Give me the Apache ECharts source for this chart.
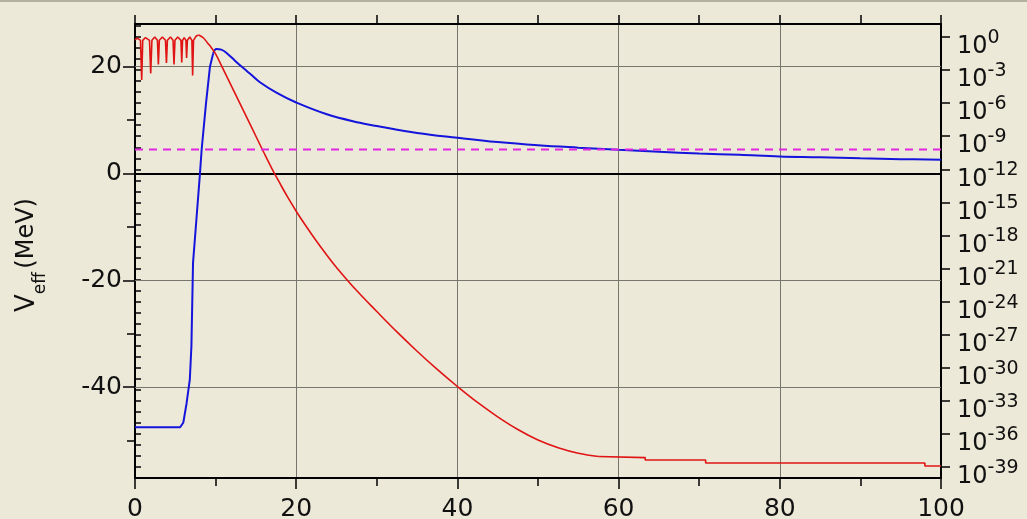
<!DOCTYPE html>
<html>
<head>
<meta charset="utf-8">
<script src="https://cdn.jsdelivr.net/npm/echarts@6/dist/echarts.min.js"></script>
<style>
  html, body { margin: 0; padding: 0; background: #ECE9D8; }
  #chart { width: 1027px; height: 519px; }
</style>
</head>
<body>
<div id="chart"></div>
<script>
// Effective potential V_eff (MeV) versus radius (fm): nuclear well, then Coulomb tail
const wellR = [0, 5.6, 6.0, 6.4, 6.8, 7.0, 7.2, 7.65, 8.06, 8.27, 8.8, 9.3, 9.7];
const wellV = [-47.5, -47.5, -46.6, -43, -38.6, -32.3, -16.7, -8.0, 0, 4.5, 13, 20, 22.5];
const tailR = [9.7, 10.1, 10.7, 11.5, 12.5, 13.4, 14.5, 15.5, 17.6, 20, 23.8, 27.9, 30, 35, 40, 45, 50, 55, 60, 65, 70, 75, 80, 85, 90, 95, 100];
const tailV = [22.5, 23.3, 23.2, 22.4, 21.0, 19.8, 18.4, 17.1, 15.1, 13.3, 11.1, 9.5, 8.9, 7.6, 6.7, 5.9, 5.3, 4.85, 4.45, 4.1, 3.75, 3.5, 3.2, 3.05, 2.85, 2.7, 2.6];

// log10 of the probability density versus radius (fm)
// inside the nucleus (oscillating, with nodes)
const insideR = [0, 0.3, 0.68, 0.83, 0.96, 1.3, 1.8, 1.95, 2.1, 2.45, 2.78, 2.9, 3.02, 3.4, 3.78, 3.9, 4.02, 4.4, 4.72, 4.84, 4.96, 5.3, 5.7, 5.8, 5.9, 6.1, 6.32, 6.4, 6.5, 6.8, 7.06, 7.15, 7.26, 7.6, 7.9];
const insideLog = [-0.25, -0.1, -0.3, -3.9, -0.3, -0.05, -0.3, -3.3, -0.3, 0.0, -0.3, -2.5, -0.3, 0.0, -0.3, -2.35, -0.3, 0.0, -0.3, -2.5, -0.3, 0.0, -0.3, -2.3, -0.3, -0.05, -0.3, -1.9, -0.3, 0.0, -0.3, -3.5, -0.3, 0.1, 0.18];
// tunnelling through the barrier
const barrierR = [7.9, 8.5, 9.0, 9.5, 10, 11, 12, 13, 14, 15, 16, 17, 18, 19, 20, 21, 22, 23, 24, 25, 27.5, 30, 32.5, 35, 37.5, 40, 42.5, 45, 47.5, 50, 52.5, 55, 57.5];
const barrierLog = [0.18, -0.09, -0.54, -1.0, -1.54, -3.0, -4.5, -6.0, -7.5, -9.0, -10.5, -11.95, -13.3, -14.6, -15.8, -16.92, -17.98, -19.0, -19.97, -20.9, -23.0, -24.9, -26.75, -28.5, -30.15, -31.7, -33.15, -34.45, -35.6, -36.55, -37.25, -37.75, -38.05];
// outside the turning point
const outsideR = [57.5, 63.3, 63.3, 70.8, 70.8, 98, 98, 100];
const outsideLog = [-38.05, -38.15, -38.37, -38.37, -38.64, -38.64, -38.91, -38.91];

// Energy level (MeV)
const energyLevel = 4.5;

// Axis ticks
const leftMajor = [-40, -20, 0, 20];
const leftMinor = [-50, -30, -10, 10];
const leftGrid = [-40, -20, 20];
const rightMajor = [0, -3, -6, -9, -12, -15, -18, -21, -24, -27, -30, -33, -36, -39];
const rightMinor = [];
for (let e = 1; e >= -40; e--) rightMinor.push(e);

const zip = (xs, ys) => xs.map((x, i) => [x, ys[i]]);

const FONT = 'DejaVu Sans';
const BLACK = '#000000';
const RED = '#E01414';
const BLUE = '#1414DC';

const chart = echarts.init(document.getElementById('chart'), null, { renderer: 'canvas' });

const curve = (name, data, axis, color, width, smooth) => ({
  name, type: 'line', xAxisIndex: 0, yAxisIndex: axis, z: 3,
  data, showSymbol: false, symbol: 'none', smooth,
  lineStyle: { color, width }
});

chart.setOption({
  backgroundColor: '#ECE9D8',
  animation: false,
  textStyle: { fontFamily: FONT },
  grid: { left: 135, right: 86, top: 24, bottom: 41, containLabel: false, outerBoundsMode: 'none' },
  graphic: [
    { type: 'rect', shape: { x: 0, y: 0, width: 1027, height: 2 }, style: { fill: '#B4B1A3' }, silent: true },
    {
      type: 'text', x: 27, y: 255, rotation: Math.PI / 2, silent: true,
      style: {
        text: '{v|V}{s|eff} {u|(MeV)}',
        align: 'center', verticalAlign: 'middle',
        rich: {
          v: { fontFamily: FONT, fontSize: 26, fill: '#111' },
          s: { fontFamily: FONT, fontSize: 17, fill: '#111', padding: [28, 0, 0, 0] },
          u: { fontFamily: FONT, fontSize: 24, fill: '#111' }
        }
      }
    }
  ],
  xAxis: [
    {
      type: 'value', position: 'bottom', min: 0, max: 100, interval: 20,
      axisLine: { show: true, onZero: false, lineStyle: { color: BLACK, width: 2 } },
      axisTick: { show: true, length: 11, lineStyle: { color: BLACK, width: 1.5 } },
      minorTick: { show: true, splitNumber: 2, length: 8, lineStyle: { color: BLACK, width: 1.5 } },
      splitLine: { show: true, lineStyle: { color: '#76766c', width: 1 } },
      axisLabel: { fontFamily: FONT, fontSize: 25, color: '#111', margin: 19 }
    },
    {
      type: 'value', position: 'top', min: 0, max: 100, interval: 10,
      axisLine: { show: true, onZero: false, lineStyle: { color: BLACK, width: 2 } },
      axisTick: { show: true, length: 9, lineStyle: { color: BLACK, width: 1.5 } },
      axisLabel: { show: false },
      splitLine: { show: false }
    }
  ],
  yAxis: [
    {
      type: 'value', position: 'left', min: -57, max: 28,
      axisLine: { show: true, onZero: false, lineStyle: { color: BLACK, width: 2 } },
      axisTick: { show: true, length: 12, customValues: leftMajor, lineStyle: { color: BLACK, width: 1.5 } },
      axisLabel: { fontFamily: FONT, fontSize: 25, color: '#111', margin: 13, customValues: leftMajor },
      splitLine: { show: false }
    },
    {
      type: 'value', position: 'left', min: -57, max: 28,
      axisLine: { show: false },
      axisTick: { show: true, length: 8, customValues: leftMinor, lineStyle: { color: BLACK, width: 1.5 } },
      axisLabel: { show: false },
      splitLine: { show: false }
    },
    {
      type: 'value', position: 'right', min: -40, max: 1.18,
      axisLine: { show: true, onZero: false, lineStyle: { color: BLACK, width: 2 } },
      axisTick: { show: true, length: 9, customValues: rightMajor, lineStyle: { color: BLACK, width: 1.5 } },
      axisLabel: {
        customValues: rightMajor, margin: 16, padding: [20, 0, 0, 0],
        formatter: v => '{b|10}{s|' + Math.round(v) + '}',
        rich: {
          b: { fontFamily: FONT, fontSize: 24, color: '#111' },
          s: { fontFamily: FONT, fontSize: 19, color: '#111', padding: [0, 0, 18, 0] }
        }
      },
      splitLine: { show: false }
    },
    {
      type: 'value', position: 'right', min: -40, max: 1.18,
      axisLine: { show: false },
      axisTick: { show: true, length: 6, customValues: rightMinor, lineStyle: { color: BLACK, width: 1.5 } },
      axisLabel: { show: false },
      splitLine: { show: false }
    }
  ],
  series: [
    {
      name: 'grid', type: 'line', xAxisIndex: 0, yAxisIndex: 0, data: [], silent: true,
      markLine: {
        silent: true, symbol: 'none', z: 1, animation: false,
        label: { show: false },
        data: leftGrid.map(v => ({ yAxis: v, lineStyle: { color: '#76766c', width: 1, type: 'solid' } }))
          .concat([{ yAxis: 0, lineStyle: { color: BLACK, width: 2, type: 'solid' } }])
      }
    },
    curve('V_eff well', zip(wellR, wellV), 0, BLUE, 2, false),
    curve('V_eff tail', zip(tailR, tailV), 0, BLUE, 2, 0.4),
    curve('density inside', zip(insideR, insideLog), 2, RED, 1.6, false),
    curve('density barrier', zip(barrierR, barrierLog), 2, RED, 1.6, 0.4),
    curve('density outside', zip(outsideR, outsideLog), 2, RED, 1.6, false),
    {
      name: 'E', type: 'line', xAxisIndex: 0, yAxisIndex: 0, z: 4,
      data: [[0, energyLevel], [100, energyLevel]], showSymbol: false, symbol: 'none',
      lineStyle: { color: '#E028E0', width: 1.8, type: [8, 6] }
    }
  ]
});
</script>
</body>
</html>
